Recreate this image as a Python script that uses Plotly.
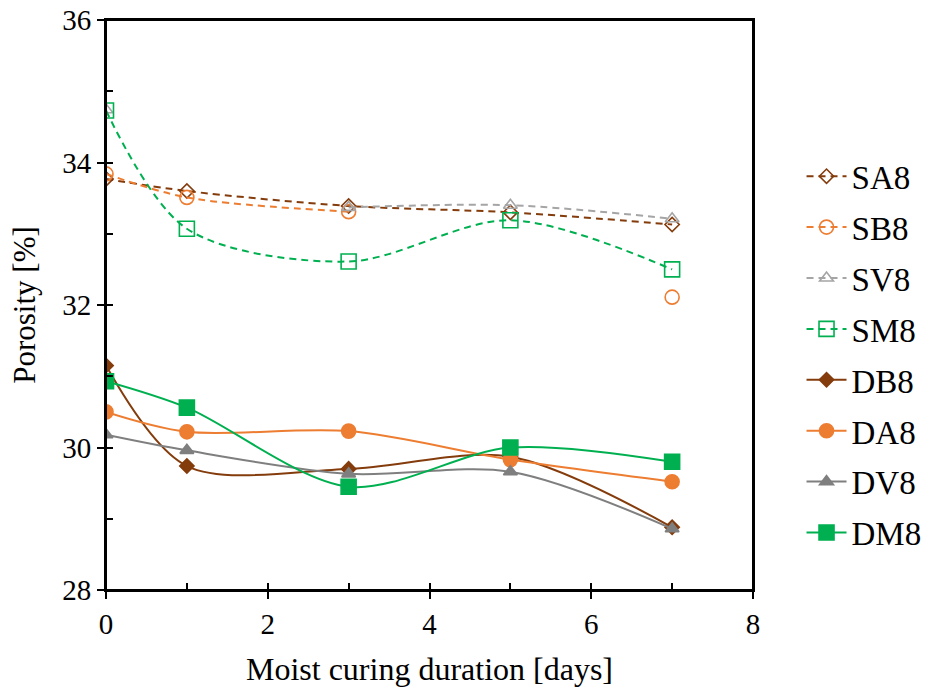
import plotly.graph_objects as go

days = [0, 1, 3, 5, 7]

SA8 = [33.77, 33.60, 33.39, 33.30, 33.13]
SB8 = [33.84, 33.51, 33.31, None, 32.11]
SV8 = [34.74, None, 33.37, 33.40, 33.21]
SM8 = [34.73, 33.07, 32.61, 33.19, 32.50]
DB8 = [31.15, 29.74, 29.70, 29.87, 28.88]
DA8 = [30.50, 30.22, 30.23, 29.83, 29.52]
DV8 = [30.18, 29.96, 29.63, 29.66, 28.86]
DM8 = [30.93, 30.56, 29.45, 30.00, 29.80]

x_ticks = [0, 2, 4, 6, 8]
y_ticks = [28, 30, 32, 34, 36]

BROWN = "#843C0C"
ORANGE = "#ED7D31"
LGREY = "#A5A5A5"
DGREY = "#7F7F7F"
GREEN = "#00B050"

FONT = "Liberation Serif, Times New Roman, serif"

SIZES = {"diamond": 11, "circle": 14, "triangle-up": 12, "square": 15}

series = [
    ("SA8", SA8, BROWN, "diamond", True),
    ("SB8", SB8, ORANGE, "circle", True),
    ("SV8", SV8, LGREY, "triangle-up", True),
    ("SM8", SM8, GREEN, "square", True),
    ("DB8", DB8, BROWN, "diamond", False),
    ("DA8", DA8, ORANGE, "circle", False),
    ("DV8", DV8, DGREY, "triangle-up", False),
    ("DM8", DM8, GREEN, "square", False),
]

fig = go.Figure()
for name, vals, col, sym, hollow in series:
    fig.add_trace(go.Scatter(
        x=days, y=vals, name=name, mode="lines+markers", legendgroup=name,
        line=dict(color=col, width=2, dash="7px,5px" if hollow else "solid",
                  shape="spline", smoothing=0.9),
        marker=dict(symbol=sym + ("-open" if hollow else ""), size=SIZES[sym],
                    color=col, line=dict(color=col, width=1.6)),
        connectgaps=False,
    ))

# dummy trace to activate the overlay axes (inner halves of cross ticks)
fig.add_trace(go.Scatter(x=[None], y=[None], xaxis="x2", yaxis="y2",
                         showlegend=False, hoverinfo="skip"))

axis_common = dict(showgrid=False, zeroline=False, showline=True, mirror=True,
                   linecolor="black", linewidth=2, ticks="outside", ticklen=7,
                   tickwidth=2, tickcolor="black", automargin=False,
                   ticklabeloverflow="allow",
                   tickfont=dict(family=FONT, size=29, color="black"))

fig.update_layout(
    width=952, height=693,
    margin=dict(l=106, r=199, t=20, b=103),
    plot_bgcolor="white", paper_bgcolor="white",
    font=dict(family=FONT, size=29, color="black"),
    xaxis=dict(range=[0, 8], tickvals=x_ticks, **axis_common,
               minor=dict(tickvals=[1, 3, 5, 7], ticks="inside", ticklen=7,
                          tickwidth=2, tickcolor="black"),
               title=dict(text="Moist curing duration [days]",
                          font=dict(family=FONT, size=32), standoff=19)),
    yaxis=dict(range=[28, 36], tickvals=y_ticks, **axis_common,
               minor=dict(tickvals=[29, 31, 33, 35], ticks="inside", ticklen=7,
                          tickwidth=2, tickcolor="black"),
               title=dict(text="Porosity [%]",
                          font=dict(family=FONT, size=31), standoff=17)),
    xaxis2=dict(range=[0, 8], overlaying="x", tickvals=x_ticks, ticks="inside",
                ticklen=7, tickwidth=2, tickcolor="black", showticklabels=False,
                showgrid=False, zeroline=False, showline=False, side="bottom"),
    yaxis2=dict(range=[28, 36], overlaying="y", tickvals=y_ticks, ticks="inside",
                ticklen=7, tickwidth=2, tickcolor="black", showticklabels=False,
                showgrid=False, zeroline=False, showline=False, side="left"),
    legend=dict(x=1.075, y=0.775, xanchor="left", yanchor="top",
                font=dict(family=FONT, size=33), bgcolor="rgba(0,0,0,0)",
                tracegroupgap=5, itemwidth=40),
    shapes=[dict(type="rect", xref="paper", yref="paper", x0=0, x1=1, y0=0, y1=1,
                 line=dict(color="black", width=2), layer="above")],
)

fig.write_html("out.html", config={"displayModeBar": False},
               post_script="document.body.style.margin='0';document.body.style.padding='0';")
